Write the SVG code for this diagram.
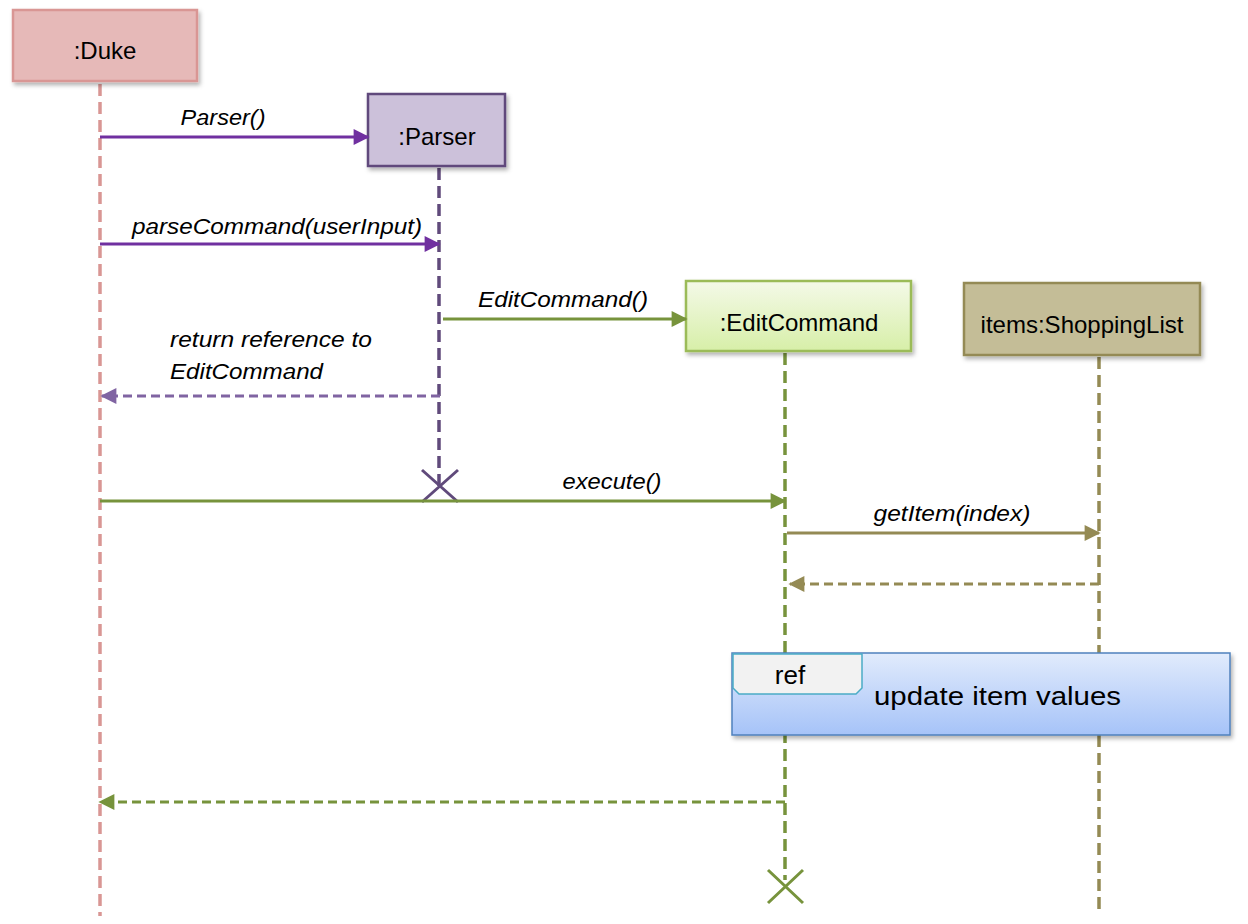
<svg xmlns="http://www.w3.org/2000/svg" width="1248" height="924" viewBox="0 0 1248 924">
<style>
text{font-family:"Liberation Sans","Noto Sans",sans-serif;fill:#000}
.lbl{font-size:24px}
.msg{font-size:22px;font-style:italic}
.life{fill:none;stroke-width:3.5;stroke-dasharray:12 6}
.box{stroke-width:2.5}
</style>
<defs>
<filter id="sh" x="-10%" y="-10%" width="130%" height="140%">
<feDropShadow dx="2" dy="3" stdDeviation="2" flood-color="#000" flood-opacity="0.3"/>
</filter>
<linearGradient id="gEdit" x1="0" y1="0" x2="0" y2="1">
<stop offset="0" stop-color="#f4f9e8"/><stop offset="1" stop-color="#d7efa8"/>
</linearGradient>
<linearGradient id="gRef" x1="0" y1="0" x2="0" y2="1">
<stop offset="0" stop-color="#e1ebfc"/><stop offset="1" stop-color="#a6c3f8"/>
</linearGradient>
<marker id="aPur2" viewBox="0 0 10 10" refX="9" refY="5" markerWidth="18" markerHeight="16" orient="auto-start-reverse" markerUnits="userSpaceOnUse"><path d="M0,0 L10,5 L0,10 z" fill="#8064a2"/></marker>
<marker id="aGrn" viewBox="0 0 10 10" refX="9" refY="5" markerWidth="18" markerHeight="16" orient="auto-start-reverse" markerUnits="userSpaceOnUse"><path d="M0,0 L10,5 L0,10 z" fill="#77933c"/></marker>
<marker id="aOl" viewBox="0 0 10 10" refX="9" refY="5" markerWidth="18" markerHeight="16" orient="auto-start-reverse" markerUnits="userSpaceOnUse"><path d="M0,0 L10,5 L0,10 z" fill="#948a54"/></marker>
<marker id="aP" viewBox="0 0 10 10" refX="9" refY="5" markerWidth="18" markerHeight="16" orient="auto-start-reverse" markerUnits="userSpaceOnUse"><path d="M0,0 L10,5 L0,10 z" fill="#7030a0"/></marker>
</defs>

<g id="duke">
<line class="life" x1="100" y1="84" x2="100" y2="916" stroke="#d99694"/>
<rect class="box" x="13" y="10" width="184" height="71" fill="#e6b9b8" stroke="#d99694" filter="url(#sh)"/>
<text class="lbl" x="105" y="59" text-anchor="middle">:Duke</text>
</g>

<g id="parser">
<line class="life" x1="439" y1="168" x2="439" y2="490" stroke="#604a7b"/>
<rect class="box" x="368" y="94" width="137" height="72" fill="#ccc1da" stroke="#604a7b" filter="url(#sh)"/>
<text class="lbl" x="437" y="145" text-anchor="middle">:Parser</text>
<path d="M422,470 L458,502 M458,470 L422,502" stroke="#604a7b" stroke-width="3"/>
</g>

<g id="editcommand">
<line class="life" x1="785" y1="353" x2="785" y2="880" stroke="#77933c"/>
<rect class="box" x="686" y="281" width="225" height="70" fill="url(#gEdit)" stroke="#9bbb59" filter="url(#sh)"/>
<text class="lbl" x="799" y="331" text-anchor="middle">:EditCommand</text>
<path d="M768,870 L803,903 M803,870 L768,903" stroke="#77933c" stroke-width="3"/>
</g>

<g id="shoppinglist">
<line class="life" x1="1099" y1="357" x2="1099" y2="910" stroke="#948a54"/>
<rect class="box" x="964" y="283" width="236" height="72" fill="#c4bd97" stroke="#948a54" filter="url(#sh)"/>
<text class="lbl" x="1082" y="333" text-anchor="middle">items:ShoppingList</text>
</g>

<g id="connectors" fill="none" stroke-width="3">
<line x1="100" y1="137" x2="368" y2="137" stroke="#7030a0" marker-end="url(#aP)"/>
<line x1="100" y1="244" x2="439" y2="244" stroke="#7030a0" marker-end="url(#aP)"/>
<line x1="443" y1="319" x2="686" y2="319" stroke="#77933c" marker-end="url(#aGrn)"/>
<line x1="440" y1="396" x2="102" y2="396" stroke="#8064a2" stroke-dasharray="9 5" marker-end="url(#aPur2)"/>
<line x1="100" y1="501" x2="785" y2="501" stroke="#77933c" marker-end="url(#aGrn)"/>
<line x1="787" y1="533" x2="1099" y2="533" stroke="#948a54" marker-end="url(#aOl)"/>
<line x1="1099" y1="584" x2="790" y2="584" stroke="#948a54" stroke-dasharray="9 5" marker-end="url(#aOl)"/>
<line x1="785" y1="802" x2="100" y2="802" stroke="#77933c" stroke-dasharray="9 5" marker-end="url(#aGrn)"/>
</g>

<g id="labels">
<text class="msg" x="223" y="125" text-anchor="middle" textLength="85" lengthAdjust="spacingAndGlyphs">Parser()</text>
<text class="msg" x="277" y="234" text-anchor="middle" textLength="290" lengthAdjust="spacingAndGlyphs">parseCommand(userInput)</text>
<text class="msg" x="563" y="307" text-anchor="middle" textLength="170" lengthAdjust="spacingAndGlyphs">EditCommand()</text>
<text class="msg" x="170" y="347" textLength="202" lengthAdjust="spacingAndGlyphs">return reference to</text>
<text class="msg" x="170" y="379" textLength="153" lengthAdjust="spacingAndGlyphs">EditCommand</text>
<text class="msg" x="612" y="489" text-anchor="middle" textLength="99" lengthAdjust="spacingAndGlyphs">execute()</text>
<text class="msg" x="952" y="521" text-anchor="middle" textLength="157" lengthAdjust="spacingAndGlyphs">getItem(index)</text>
</g>

<g id="ref">
<rect x="732" y="653" width="498" height="82" fill="url(#gRef)" stroke="#4f81bd" stroke-width="1.5" filter="url(#sh)"/>
<path d="M733,654 L862,654 L862,688 L856,694 L739,694 L733,688 Z" fill="#f2f2f2" stroke="#4bacc6" stroke-width="1.5"/>
<text x="790" y="684" font-size="26" text-anchor="middle">ref</text>
<text x="874" y="705" font-size="26" textLength="247" lengthAdjust="spacingAndGlyphs">update item values</text>
</g>
</svg>
